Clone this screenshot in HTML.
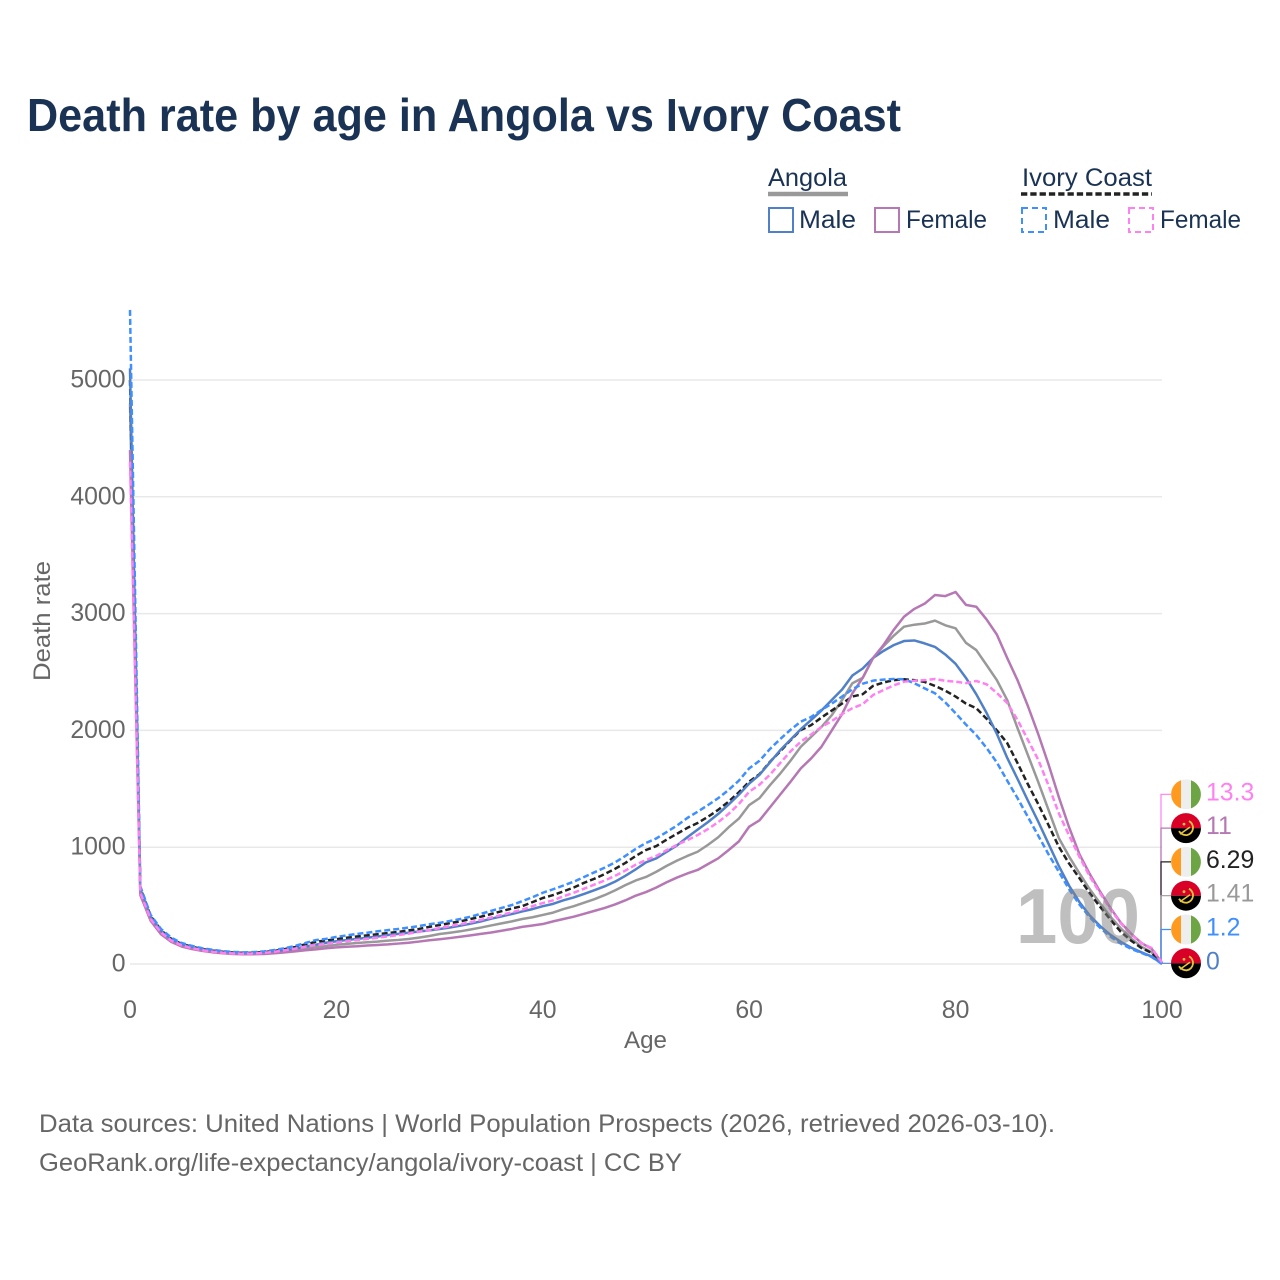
<!DOCTYPE html>
<html lang="en">
<head>
<meta charset="utf-8">
<title>Death rate by age in Angola vs Ivory Coast</title>
<style>
html,body{margin:0;padding:0;background:#fff;}
svg{display:block;font-family:"Liberation Sans",sans-serif;}
</style>
</head>
<body>
<svg id="chart" xmlns="http://www.w3.org/2000/svg" width="1280" height="1280" viewBox="0 0 1280 1280">
  <rect x="0" y="0" width="1280" height="1280" fill="#fff"/>
  <text x="27" y="131" font-size="46" font-weight="700" fill="#1a3355" textLength="874" lengthAdjust="spacingAndGlyphs">Death rate by age in Angola vs Ivory Coast</text>

  <g>
    <text x="768" y="186" font-size="25" fill="#1a3355" textLength="79" lengthAdjust="spacingAndGlyphs">Angola</text>
    <line x1="768" x2="848" y1="194" y2="194" stroke="#999" stroke-width="4.5"/>
    <text x="1022" y="186" font-size="25" fill="#1a3355" textLength="130" lengthAdjust="spacingAndGlyphs">Ivory Coast</text>
    <line x1="1021" x2="1152" y1="194" y2="194" stroke="#222" stroke-width="3.5" stroke-dasharray="6.3,3"/>
    <rect x="769" y="208" width="24" height="24" fill="none" stroke="#5080c8" stroke-width="2"/>
    <text x="799" y="228" font-size="25" fill="#1a3355" textLength="57" lengthAdjust="spacingAndGlyphs">Male</text>
    <rect x="875" y="208" width="24" height="24" fill="none" stroke="#b678b4" stroke-width="2"/>
    <text x="906" y="228" font-size="25" fill="#1a3355" textLength="81" lengthAdjust="spacingAndGlyphs">Female</text>
    <rect x="1022" y="208" width="24" height="24" fill="none" stroke="#3f8fff" stroke-width="2" stroke-dasharray="6,4"/>
    <text x="1053" y="228" font-size="25" fill="#1a3355" textLength="57" lengthAdjust="spacingAndGlyphs">Male</text>
    <rect x="1129" y="208" width="24" height="24" fill="none" stroke="#ff80f0" stroke-width="2" stroke-dasharray="6,4"/>
    <text x="1160" y="228" font-size="25" fill="#1a3355" textLength="81" lengthAdjust="spacingAndGlyphs">Female</text>
  </g>

  <g id="grid"></g>
  <g id="xticks"></g>
  <g id="yticks"></g>
  <text x="645.5" y="1048" font-size="24.5" fill="#666" text-anchor="middle" textLength="43" lengthAdjust="spacingAndGlyphs">Age</text>
  <text transform="translate(50,621) rotate(-90)" font-size="24.5" fill="#666" text-anchor="middle" textLength="120" lengthAdjust="spacingAndGlyphs">Death rate</text>

  <g id="connectors"></g>
  <g id="lines"></g>
  <g id="endlabels"></g>

  <text id="age-watermark" x="1016" y="943" font-size="78" font-weight="700" fill="#808080" fill-opacity="0.5" textLength="124" lengthAdjust="spacingAndGlyphs">100</text>

  <text x="39" y="1132" font-size="25" fill="#666" textLength="1016" lengthAdjust="spacingAndGlyphs">Data sources: United Nations | World Population Prospects (2026, retrieved 2026-03-10).</text>
  <text x="39" y="1171" font-size="25" fill="#666" textLength="643" lengthAdjust="spacingAndGlyphs">GeoRank.org/life-expectancy/angola/ivory-coast | CC BY</text>
</svg>
<script>
const xTickLabels = [0, 20, 40, 60, 80, 100];
const yTickLabels = [0, 1000, 2000, 3000, 4000, 5000];

const angolaTotal = [4800,620,385,268,198,158,134,117,104,95,
89,86,86,89,96,107,120,134,145,155,
165,172,180,186,192,200,206,214,226,240,
257,268,280,295,312,330,348,365,385,400,
420,440,470,495,525,555,590,630,675,715,
745,790,840,885,925,961,1020,1085,1170,1245,
1361,1420,1530,1630,1740,1860,1945,2030,2130,2260,
2404,2450,2618,2720,2810,2888,2905,2915,2940,2900,
2874,2750,2688,2560,2430,2260,2020,1790,1560,1320,
1079,920,776,640,520,405,306,220,148,100,1.41];

const ivoryTotal = [5000,650,410,290,215,172,148,128,115,105,
98,95,96,102,112,128,145,168,190,202,
212,225,235,245,255,265,275,288,300,318,
334,350,365,385,405,428,452,475,495,530,
565,590,622,655,695,730,770,815,865,925,
976,1010,1065,1115,1165,1207,1260,1320,1390,1470,
1561,1625,1730,1820,1915,2003,2045,2110,2170,2230,
2290,2310,2381,2410,2430,2438,2430,2415,2381,2340,
2290,2230,2190,2100,2000,1892,1720,1540,1370,1190,
1004,860,735,605,490,380,277,200,137,95,6.29];

const angolaMale = [5100,640,400,280,205,165,140,122,108,98,
92,88,88,92,100,115,132,150,165,182,
195,205,215,225,235,248,258,268,278,288,
300,312,328,345,365,388,408,428,450,470,
495,515,545,570,600,632,665,705,755,810,
870,905,960,1015,1085,1150,1215,1285,1365,1450,
1545,1620,1725,1830,1920,2010,2090,2170,2260,2350,
2470,2530,2620,2680,2730,2765,2770,2745,2715,2650,
2570,2450,2310,2150,1970,1765,1585,1400,1220,1030,
840,670,530,415,325,250,190,140,100,65,0];

const angolaFemale = [4400,590,370,255,190,150,128,112,100,92,
86,84,84,86,92,100,108,118,125,135,
142,148,152,158,163,168,175,182,192,203,
212,222,233,245,258,270,285,300,318,330,
342,365,385,405,430,455,480,510,545,585,
616,655,700,740,775,805,855,905,975,1050,
1176,1230,1340,1450,1560,1675,1760,1860,2000,2140,
2318,2450,2620,2730,2860,2973,3040,3085,3159,3150,
3185,3075,3059,2950,2820,2620,2430,2210,1970,1710,
1430,1170,940,770,620,480,355,260,180,130,11];

const ivoryMale = [5600,665,420,300,225,180,155,135,122,110,
103,100,102,108,120,135,155,180,205,215,
232,245,258,268,280,290,300,312,325,340,
352,368,385,405,430,455,480,505,538,572,
610,640,672,705,745,785,825,870,925,985,
1036,1075,1130,1185,1250,1304,1360,1420,1490,1570,
1675,1740,1840,1925,2005,2075,2115,2175,2230,2290,
2352,2400,2426,2435,2440,2438,2404,2360,2318,2240,
2147,2050,1960,1850,1725,1570,1420,1260,1100,940,
790,640,510,400,310,235,175,130,95,60,1.2];

const ivoryFemale = [4300,610,385,270,200,160,135,118,105,96,
90,88,90,95,105,118,132,148,162,172,
183,195,205,215,225,237,248,260,275,290,
308,325,340,358,378,398,420,442,465,495,
522,545,580,610,645,680,715,755,800,850,
890,925,975,1020,1060,1104,1155,1215,1285,1370,
1475,1535,1620,1720,1820,1903,1965,2030,2080,2140,
2190,2225,2303,2345,2385,2417,2425,2430,2440,2425,
2417,2405,2423,2395,2320,2235,2090,1920,1750,1530,
1290,1100,918,750,606,470,349,255,178,137,13.3];

const seriesNames = ['angola-total','ivory-coast-total','angola-male','angola-female','ivory-coast-male','ivory-coast-female'];
const seriesValues = [angolaTotal, ivoryTotal, angolaMale, angolaFemale, ivoryMale, ivoryFemale];
const seriesCountries = ['angola','ivory','angola','angola','ivory','ivory'];
const seriesColors = ['#999999','#222222','#5080c8','#b678b4','#3f8fff','#ff80f0'];
const seriesDashes = ['', '6,3', '', '', '6,3', '6,3'];
const endLabelText = ['1.41','6.29','0','11','1.2','13.3'];

const NS = 'http://www.w3.org/2000/svg';
const plot = {left:130, right:1162, bottom:964, top:380, xMax:100, yMax:5000};
function xScale(age){ return plot.left + (plot.right - plot.left) * age / plot.xMax; }
function yScale(v){ return plot.bottom - (plot.bottom - plot.top) * v / plot.yMax; }
function make(tag, attrs, parent){
  const e = document.createElementNS(NS, tag);
  for (const k in attrs) e.setAttribute(k, attrs[k]);
  parent.appendChild(e);
  return e;
}

const gridG = document.getElementById('grid');
const xG = document.getElementById('xticks');
const yG = document.getElementById('yticks');
yTickLabels.forEach(function(v){
  const g = make('line', {x1:plot.left, x2:plot.right, y1:yScale(v), y2:yScale(v), stroke:'#e8e8e8', 'stroke-width':1.5}, gridG);
  
  
  const t = make('text', {x:125.5, y:yScale(v)+7.5, 'font-size':24.8, fill:'#666', 'text-anchor':'end'}, yG);
  
  
  t.textContent = v;
});
xTickLabels.forEach(function(a){
  const t = make('text', {x:xScale(a), y:1018, 'font-size':24.8, fill:'#666', 'text-anchor':'middle'}, xG);
  
  
  t.textContent = a;
});

const linesG = document.getElementById('lines');
seriesValues.forEach(function(vals, i){
  let d = '';
  vals.forEach(function(v, a){
    d += (a ? 'L' : 'M') + xScale(a).toFixed(2) + ' ' + yScale(v).toFixed(2);
  });
  const p = make('path', {d:d, fill:'none', stroke:seriesColors[i], 'stroke-width':2.5, 'stroke-linejoin':'round'}, linesG);
  if (seriesDashes[i]) p.setAttribute('stroke-dasharray', seriesDashes[i]);
  
  
});

/* end labels: sorted by final value, stacked upward from the axis baseline */
const order = seriesValues.map(function(v, i){ return i; }).sort(function(a, b){
  return seriesValues[a][100] - seriesValues[b][100];
});
const connG = document.getElementById('connectors');
const endG = document.getElementById('endlabels');
const labelStep = 33.8;
const labelBase = 963.3;
function drawFlag(kind, cx, cy, parent){
  const g = make('g', {transform:'translate(' + cx + ',' + cy + ')'}, parent);
  
  
  if (kind === 'angola') {
    make('path', {d:'M-15 0A15 15 0 0 1 15 0Z', fill:'#d80027'}, g);
    make('path', {d:'M-15 0A15 15 0 0 0 15 0Z', fill:'#000'}, g);
    make('path', {d:'M3 -7A7.5 7.5 0 0 1 1 7A9 9 0 0 1 -7 3', fill:'none', stroke:'#e8c63c', 'stroke-width':1.8}, g);
    make('path', {d:'M-6 6L4 -1', fill:'none', stroke:'#e8c63c', 'stroke-width':1.5}, g);
    make('circle', {cx:-2, cy:-4, r:1.4, fill:'#e8c63c'}, g);
  } else {
    make('path', {d:'M-5 -14.1A15 15 0 0 0 -5 14.1Z', fill:'#ff9a1f'}, g);
    make('path', {d:'M-5 -14.1A15 15 0 0 1 5 -14.1L5 14.1A15 15 0 0 1 -5 14.1Z', fill:'#eeeeee'}, g);
    make('path', {d:'M5 -14.1A15 15 0 0 1 5 14.1Z', fill:'#6da544'}, g);
  }
}
/* connectors painted top label first so lower ones overlay */
order.slice().reverse().forEach(function(idx){
  const rank = order.indexOf(idx);
  const y = labelBase - rank * labelStep;
  const c = make('path', {d:'M1161 ' + yScale(seriesValues[idx][100]) + 'V' + y + 'H1171', fill:'none', stroke:seriesColors[idx], 'stroke-width':1.2}, connG);
  
  
});
order.forEach(function(idx, rank){
  const y = labelBase - rank * labelStep;
  drawFlag(seriesCountries[idx], 1186, y, endG);
  const t = make('text', {x:1206, y:y+6, 'font-size':24.8, fill:seriesColors[idx]}, endG);
  
  
  t.textContent = endLabelText[idx];
});
</script>
</body>
</html>
